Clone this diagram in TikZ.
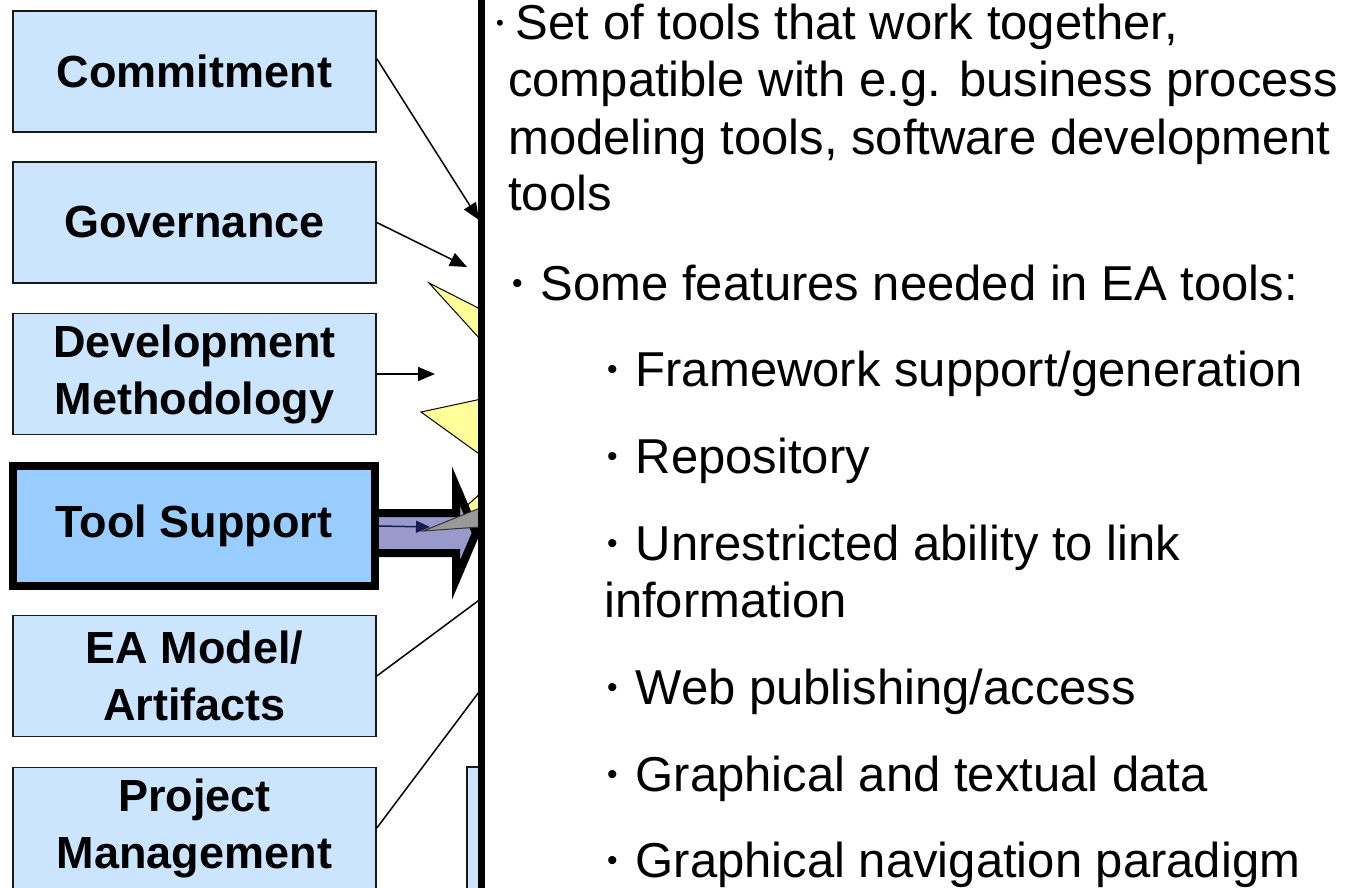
\documentclass[tikz,border=0pt]{standalone}
\usepackage{fontspec}
\setmainfont{Liberation Sans}
\usetikzlibrary{arrows.meta}
\definecolor{boxblue}{HTML}{CCE5FF}
\definecolor{toolblue}{HTML}{99CCFF}
\definecolor{staryellow}{HTML}{FFFF99}
\definecolor{fatpurple}{HTML}{9999CC}
\definecolor{navyline}{HTML}{1A1A55}
\definecolor{pointgray}{HTML}{999999}
\newcommand{\mybul}{\raisebox{7pt}{\fontsize{30}{30}\selectfont •}\hspace{18pt}}
\newcommand{\mysmallbul}{\raisebox{9pt}{\fontsize{22}{22}\selectfont •}\hspace{12pt}}
\tikzset{
  lbox/.style={draw=black!90, line width=1.6pt, fill=boxblue, minimum width=363pt, minimum height=121pt,
    inner sep=0pt, align=center, font=\bfseries\fontsize{45}{57}\selectfont},
  toolbox/.style={lbox, draw=black, fill=toolblue, line width=8pt, minimum width=362pt, minimum height=120pt},
  conn/.style={draw=black, line width=1.5pt},
  connarrow/.style={conn, -{Triangle[length=17pt,width=14pt]}},
  starpt/.style={draw=black, line width=1pt, fill=staryellow},
  bodytext/.style={anchor=base west, inner sep=0pt, font=\fontsize{49}{57}\selectfont}
}
\begin{document}
\begin{tikzpicture}[x=1pt,y=-1pt]
\useasboundingbox (0,0) rectangle (1355,888);
\fill[white] (0,0) rectangle (1355,888);

% left boxes
\node[lbox] (commit) at (194.5,71.5) {Commitment};
\node[lbox] (gov) at (194.5,222.5) {Governance};
\node[lbox] (dev) at (194.5,374) {Development\\Methodology};
\node[toolbox] (tool) at (194,526) {Tool Support};
\node[lbox] (ea) at (194.5,676) {EA Model/\\Artifacts};
\node[lbox] (pm) at (194.5,828) {Project\\Management};

% box hidden behind the panel
\node[draw=black!90, line width=1.6pt, fill=boxblue, minimum width=40pt, minimum height=130pt, inner sep=0pt] (hidden) at (487,832) {};

% star points
\draw[starpt] (429,283) -- (500,319) -- (500,361) -- cycle;
\draw[starpt] (421,412) -- (500,395) -- (500,469) -- cycle;
\draw[starpt] (462,510) -- (500,476) -- (500,540) -- cycle;

% connector end points
\coordinate (tc) at (479,220);
\coordinate (tg) at (467,267);
\coordinate (td) at (435,374);
\coordinate (te) at (482,598);
\coordinate (tp) at (482,688);
\coordinate (tt) at (430,527);

\draw[connarrow] (commit.4.6) -- (tc);
\draw[connarrow] (gov.east) -- (tg);
\draw[connarrow] (dev.east) -- (td);
\draw[conn] (ea.east) -- (te);
\draw[conn] (pm.east) -- (tp);

% fat arrow from Tool Support
\draw[line width=8pt, fill=fatpurple, line join=miter]
  (379,513) -- (456,513) -- (456,486) -- (476,533) -- (456,580) -- (456,553) -- (379,553);
\draw[navyline, line width=1.5pt, -{Triangle[length=14pt,width=12pt]}] (tool.east) -- (tt);
\draw[draw=black!80, line width=1pt, fill=pointgray] (423,531) -- (480,508) -- (480,527) -- cycle;

% white panel
\fill[white] (481.5,0) rectangle (1355,888);
\draw[line width=7pt] (481.5,0) -- (481.5,888);

% text
\node[bodytext] (l1) at (496,40) {\mysmallbul Set of tools that work together,};
\node[bodytext] (l2) at (508,97) {compatible with e.g. business process};
\node[bodytext] (l3) at (508,154) {modeling tools, software development};
\node[bodytext] (l4) at (508,211) {tools};
\node[bodytext] (l5) at (512,300) {\mybul Some features needed in EA tools:};
\node[bodytext] (l6) at (607,386) {\mybul Framework support/generation};
\node[bodytext] (l7) at (607,473) {\mybul Repository};
\node[bodytext] (l8) at (607,560) {\mybul Unrestricted ability to link};
\node[bodytext] (l9) at (604,617) {information};
\node[bodytext] (l10) at (607,704) {\mybul Web publishing/access};
\node[bodytext] (l11) at (607,791) {\mybul Graphical and textual data};
\node[bodytext] (l12) at (607,877) {\mybul Graphical navigation paradigm};
\end{tikzpicture}
\end{document}
